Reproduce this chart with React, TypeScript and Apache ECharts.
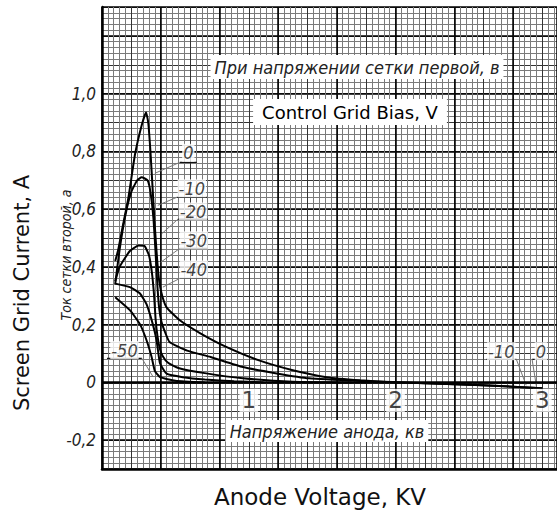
import React, { useEffect, useRef } from 'react';
import * as echarts from 'echarts';

// Anode voltage (kV) vs screen grid current (A), one curve per control grid bias (V)
const bias0: number[][] = [[0.09,0.42],[0.111,0.46],[0.145,0.55],[0.18,0.64],[0.225,0.79],[0.27,0.89],[0.30,0.935],[0.315,0.90],[0.33,0.80],[0.345,0.67],[0.36,0.54],[0.375,0.43],[0.39,0.35],[0.41,0.30],[0.44,0.26],[0.53,0.215],[0.67,0.17],[0.85,0.122],[1.07,0.076],[1.3,0.042],[1.53,0.018],[1.76,0.007],[2.0,0.0],[2.5,-0.008],[3.0,-0.02]];
const biasM10: number[][] = [[0.09,0.34],[0.12,0.46],[0.16,0.58],[0.2,0.66],[0.24,0.70],[0.27,0.71],[0.31,0.70],[0.33,0.66],[0.35,0.57],[0.365,0.45],[0.378,0.33],[0.39,0.255],[0.405,0.21],[0.425,0.18],[0.46,0.14],[0.58,0.11],[0.74,0.088],[0.96,0.053],[1.19,0.031],[1.41,0.014],[1.76,0.005],[2.2,-0.003],[2.6,-0.01],[3.0,-0.02]];
const biasM20: number[][] = [[0.09,0.35],[0.12,0.40],[0.19,0.455],[0.25,0.474],[0.29,0.472],[0.32,0.44],[0.34,0.38],[0.355,0.30],[0.365,0.22],[0.378,0.16],[0.395,0.115],[0.415,0.09],[0.45,0.068],[0.52,0.05],[0.7,0.032],[0.96,0.014],[1.3,0.002],[1.7,0.0]];
const biasM30: number[][] = [[0.09,0.342],[0.19,0.33],[0.26,0.307],[0.304,0.27],[0.347,0.2],[0.372,0.145],[0.395,0.066],[0.44,0.03],[0.55,0.018],[0.7,0.01],[0.9,0.004],[1.1,0.0]];
const biasM40: number[][] = [[0.09,0.295],[0.19,0.25],[0.26,0.2],[0.304,0.145],[0.338,0.088],[0.36,0.04],[0.395,0.018],[0.5,0.006],[0.7,0.0]];

// Curve labels (data coordinates), their underlines and leader lines
const curveLabels = ['0', '-10', '-20', '-30', '-40', '-50', '-10', '0'];
const labelPos: number[][] = [[0.588,0.795],[0.612,0.672],[0.62,0.592],[0.625,0.492],[0.625,0.391],[0.153,0.112],[2.72,0.108],[2.99,0.108]];
const underlines: number[][][] = [
  [[0.53,0.762],[0.646,0.762]],
  [[0.51,0.641],[0.714,0.641]],
  [[0.517,0.565],[0.721,0.565]],
  [[0.53,0.464],[0.72,0.464]],
  [[0.53,0.36],[0.72,0.36]],
  [[0.034,0.083],[0.272,0.083]],
  [[2.62,0.08],[2.823,0.08]],
  [[2.93,0.08],[3.034,0.08]],
];
const leaders: number[][][] = [
  [[0.53,0.762],[0.36,0.724]],
  [[0.51,0.641],[0.38,0.613]],
  [[0.517,0.565],[0.41,0.516]],
  [[0.53,0.464],[0.40,0.416]],
  [[0.53,0.36],[0.415,0.33]],
  [[0.272,0.083],[0.347,0.02]],
  [[2.823,0.08],[2.89,-0.01]],
  [[2.93,0.08],[2.96,-0.014]],
];

// x tick labels sit just under the zero line, as on the original sheet
const xTickValues = [1, 2, 3];
const xTickLabels = ['1', '2', '3'];
const yTickLabels = ['-0,2', '0', '0,2', '0,4', '0,6', '0,8', '1,0'];

const NARROW = "'DejaVu Sans Condensed', 'Liberation Sans', sans-serif";
const SANS = "'DejaVu Sans', sans-serif";

function buildOption() {
  const curves = [bias0, biasM10, biasM20, biasM30, biasM40];
  const curveNames = ['0', '-10', '-20', '-30', '-40'];
  const series: any[] = curves.map((d, i) => ({
    type: 'line',
    name: curveNames[i],
    data: d,
    showSymbol: false,
    symbol: 'none',
    smooth: 0.15,
    lineStyle: { color: '#000', width: 2 },
    z: 5,
    silent: true,
  }));
  series[0].markLine = {
    silent: true,
    symbol: 'none',
    label: { show: false },
    lineStyle: { color: '#000', width: 2.5, type: 'solid' },
    data: [{ yAxis: 0 }],
  };
  underlines.forEach((u) => {
    series.push({ type: 'line', data: u, symbol: 'none', lineStyle: { color: '#111', width: 1.3 }, z: 4, silent: true });
  });
  leaders.forEach((l) => {
    series.push({ type: 'line', data: l, symbol: 'none', lineStyle: { color: '#777', width: 1 }, z: 4, silent: true });
  });
  series.push({
    type: 'scatter',
    data: labelPos,
    symbolSize: 1,
    itemStyle: { color: 'rgba(0,0,0,0)' },
    z: 6,
    silent: true,
    label: {
      show: true,
      position: 'inside',
      formatter: (p: any) => curveLabels[p.dataIndex],
      fontFamily: NARROW,
      fontStyle: 'italic',
      fontSize: 18,
      color: '#111',
      backgroundColor: '#fff',
      padding: [0, 1],
    },
  });
  series.push({
    type: 'scatter',
    data: xTickValues.map((v) => [v, 0]),
    symbolSize: 1,
    itemStyle: { color: 'rgba(0,0,0,0)' },
    z: 6,
    silent: true,
    label: {
      show: true,
      position: 'bottom',
      distance: 6,
      formatter: (p: any) => xTickLabels[p.dataIndex],
      fontFamily: SANS,
      fontSize: 23,
      color: '#111',
      backgroundColor: '#fff',
      padding: [0, 2],
    },
  });

  const fmtY = (v: number) => {
    const r = Math.round(v * 10);
    if (r % 2 !== 0 || r > 10 || r < -2) return '';
    return yTickLabels[r / 2 + 1] ?? '';
  };

  return {
    animation: false,
    backgroundColor: '#fff',
    grid: { left: 102, right: 0, top: 7, bottom: 46, containLabel: false },
    xAxis: [
      {
        type: 'value', min: 0, max: 3.1, interval: 0.2,
        axisLine: { show: false, onZero: false },
        axisTick: { show: false },
        axisLabel: { show: false },
        splitLine: { show: true, lineStyle: { color: '#333', width: 1 } },
        minorTick: { show: false, splitNumber: 5 },
        minorSplitLine: { show: true, lineStyle: { color: '#7a7a7a', width: 1 } },
      },
      {
        type: 'value', min: 0, max: 3.1, interval: 0.4, position: 'bottom',
        axisLine: { show: true, onZero: false, lineStyle: { color: '#000', width: 2.5 } },
        axisTick: { show: false },
        axisLabel: { show: false },
        splitLine: { show: true, lineStyle: { color: '#000', width: 1.5 } },
      },
    ],
    yAxis: [
      {
        type: 'value', min: -0.3, max: 1.3, interval: 0.1,
        axisLine: { show: true, onZero: false, lineStyle: { color: '#000', width: 2.5 } },
        axisTick: { show: false },
        axisLabel: { formatter: fmtY, fontFamily: NARROW, fontStyle: 'italic', fontSize: 17, color: '#222', margin: 6, showMinLabel: false, showMaxLabel: false },
        splitLine: { show: true, lineStyle: { color: '#333', width: 1 } },
        minorTick: { show: false, splitNumber: 5 },
        minorSplitLine: { show: true, lineStyle: { color: '#7a7a7a', width: 1 } },
      },
      {
        type: 'value', min: -0.3, max: 1.3, splitNumber: 8, minInterval: 0.2, maxInterval: 0.2, position: 'left',
        axisLine: { show: false, onZero: false },
        axisTick: { show: false },
        axisLabel: { show: false },
        splitLine: { show: true, lineStyle: { color: '#000', width: 1.5 } },
      },
    ],
    series,
    graphic: [
      {
        type: 'text', x: 357, y: 67, z: 10,
        style: { text: 'При напряжении сетки первой, в', font: `italic 18px ${NARROW}`, fill: '#222', align: 'center', verticalAlign: 'middle', backgroundColor: '#fff', padding: [3, 4] },
      },
      {
        type: 'text', x: 350, y: 112, z: 10,
        style: { text: 'Control Grid Bias, V', font: `18px ${SANS}`, fill: '#000', align: 'center', verticalAlign: 'middle', backgroundColor: '#fff', padding: [4, 9] },
      },
      {
        type: 'text', x: 327, y: 431, z: 10,
        style: { text: 'Напряжение анода, кв', font: `italic 18px ${NARROW}`, fill: '#222', align: 'center', verticalAlign: 'middle', backgroundColor: '#fff', padding: [2, 4] },
      },
      {
        type: 'text', x: 66, y: 255, rotation: Math.PI / 2, z: 10,
        style: { text: 'Ток сетки второй, а', font: `italic 14px ${NARROW}`, fill: '#222', align: 'center', verticalAlign: 'middle' },
      },
      {
        type: 'text', x: 22, y: 293, rotation: Math.PI / 2, z: 10,
        style: { text: 'Screen Grid Current, A', font: `21px ${SANS}`, fill: '#111', align: 'center', verticalAlign: 'middle' },
      },
      {
        type: 'text', x: 320, y: 497, z: 10,
        style: { text: 'Anode Voltage, KV', font: `23px ${SANS}`, fill: '#111', align: 'center', verticalAlign: 'middle' },
      },
    ],
  };
}

export default function App() {
  const ref = useRef<HTMLDivElement>(null);
  useEffect(() => {
    if (!ref.current) return;
    const chart = echarts.init(ref.current, null, { renderer: 'svg' });
    chart.setOption(buildOption() as any);
    return () => chart.dispose();
  }, []);
  return (
    <div
      ref={ref}
      style={{ position: 'absolute', left: 0, top: 0, width: 557, height: 515, background: '#fff' }}
    />
  );
}
